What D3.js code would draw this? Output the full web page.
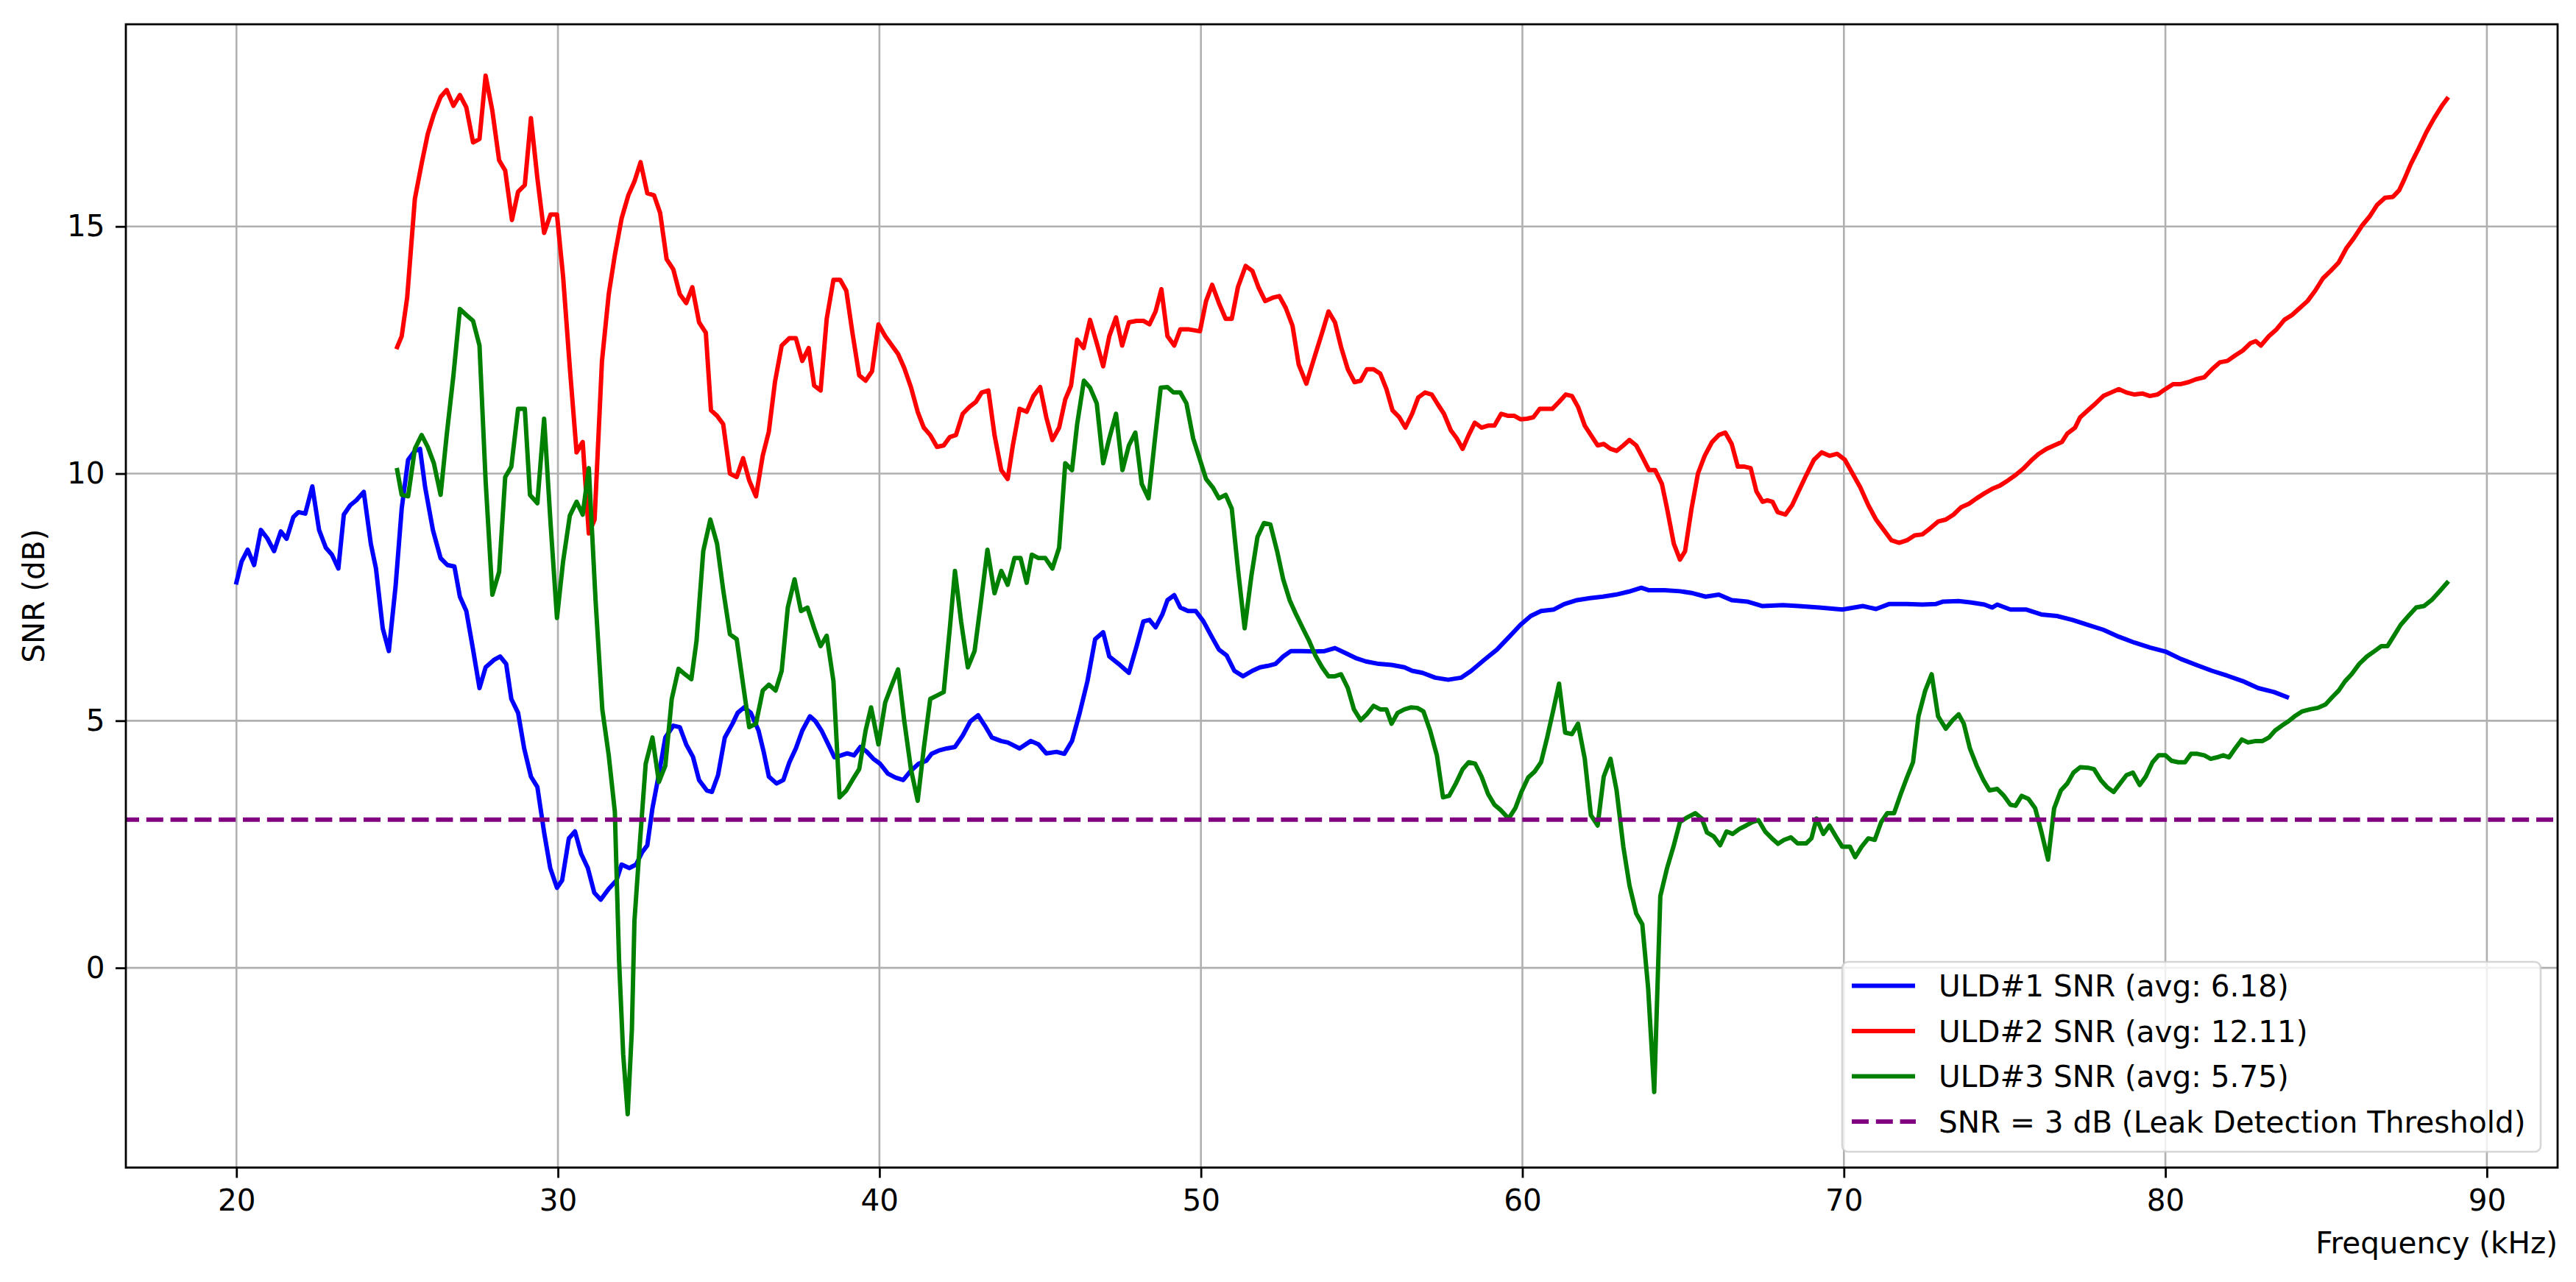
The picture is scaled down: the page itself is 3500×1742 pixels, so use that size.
<!DOCTYPE html>
<html>
<head>
<meta charset="utf-8">
<script src="https://cdn.jsdelivr.net/npm/d3@7"></script>
<style>
  body { margin: 0; background: #ffffff; }
  text { font-family: "DejaVu Sans", sans-serif; fill: #000000; }
</style>
</head>
<body>
<div class="chart-box"></div>
<script>
// Series data: [frequency kHz, SNR dB]
var uld1 = [[20.0,7.8],[20.16,8.22],[20.35,8.46],[20.55,8.15],[20.76,8.86],[20.96,8.69],[21.17,8.43],[21.38,8.83],[21.56,8.68],[21.77,9.12],[21.93,9.22],[22.14,9.19],[22.36,9.74],[22.57,8.86],[22.78,8.5],[22.97,8.36],[23.17,8.08],[23.34,9.17],[23.54,9.36],[23.73,9.46],[23.96,9.63],[24.18,8.58],[24.34,8.08],[24.55,6.87],[24.74,6.41],[24.95,7.72],[25.14,9.29],[25.34,10.28],[25.55,10.46],[25.71,10.5],[25.87,9.72],[26.11,8.86],[26.35,8.29],[26.56,8.15],[26.78,8.12],[26.95,7.51],[27.15,7.22],[27.36,6.44],[27.56,5.66],[27.75,6.08],[28.01,6.23],[28.2,6.3],[28.39,6.15],[28.55,5.44],[28.76,5.16],[28.95,4.44],[29.16,3.87],[29.36,3.66],[29.57,2.74],[29.76,2.02],[29.97,1.62],[30.13,1.77],[30.34,2.62],[30.53,2.76],[30.72,2.31],[30.93,2.02],[31.13,1.52],[31.33,1.38],[31.58,1.6],[31.82,1.77],[31.98,2.09],[32.22,2.02],[32.43,2.09],[32.62,2.34],[32.78,2.48],[32.94,3.23],[33.15,3.95],[33.34,4.66],[33.59,4.9],[33.79,4.87],[33.99,4.52],[34.2,4.27],[34.39,3.8],[34.63,3.59],[34.79,3.56],[34.98,3.9],[35.19,4.66],[35.43,4.94],[35.59,5.16],[35.79,5.27],[36.0,5.16],[36.24,4.8],[36.4,4.37],[36.56,3.87],[36.8,3.73],[37.01,3.8],[37.2,4.16],[37.4,4.44],[37.6,4.8],[37.84,5.09],[38.01,4.99],[38.2,4.8],[38.41,4.52],[38.6,4.26],[38.81,4.3],[39.0,4.34],[39.21,4.3],[39.41,4.47],[39.61,4.37],[39.81,4.23],[40.02,4.13],[40.26,3.93],[40.5,3.85],[40.74,3.8],[40.98,3.99],[41.22,4.13],[41.46,4.19],[41.62,4.33],[41.86,4.4],[42.1,4.44],[42.35,4.47],[42.59,4.7],[42.83,4.99],[43.07,5.11],[43.28,4.9],[43.5,4.66],[43.78,4.59],[43.99,4.56],[44.36,4.44],[44.71,4.59],[44.95,4.52],[45.19,4.34],[45.51,4.37],[45.75,4.33],[45.99,4.59],[46.23,5.16],[46.47,5.8],[46.71,6.65],[46.96,6.79],[47.15,6.3],[47.44,6.15],[47.76,5.97],[48.0,6.51],[48.21,7.01],[48.4,7.04],[48.59,6.89],[48.8,7.15],[48.96,7.44],[49.17,7.54],[49.36,7.29],[49.6,7.22],[49.84,7.22],[50.08,7.01],[50.32,6.72],[50.56,6.44],[50.8,6.32],[51.04,6.01],[51.31,5.9],[51.6,6.01],[51.84,6.08],[52.08,6.11],[52.32,6.15],[52.56,6.3],[52.8,6.41],[53.13,6.41],[53.53,6.4],[53.85,6.41],[54.17,6.47],[54.49,6.37],[54.81,6.27],[55.13,6.2],[55.53,6.15],[55.93,6.13],[56.33,6.08],[56.57,6.01],[56.89,5.97],[57.29,5.87],[57.69,5.83],[58.09,5.87],[58.41,6.01],[58.81,6.23],[59.21,6.44],[59.62,6.72],[59.94,6.94],[60.26,7.12],[60.58,7.22],[60.98,7.25],[61.3,7.36],[61.7,7.44],[62.1,7.48],[62.5,7.51],[62.9,7.55],[63.3,7.61],[63.7,7.69],[63.94,7.64],[64.42,7.64],[64.9,7.62],[65.3,7.58],[65.7,7.51],[66.11,7.55],[66.51,7.44],[66.99,7.41],[67.47,7.32],[68.1,7.34],[68.59,7.32],[69.23,7.29],[69.95,7.25],[70.59,7.32],[71.0,7.26],[71.4,7.36],[71.96,7.36],[72.44,7.35],[72.85,7.36],[73.09,7.41],[73.57,7.42],[73.97,7.39],[74.37,7.35],[74.61,7.29],[74.77,7.35],[75.18,7.25],[75.66,7.25],[76.14,7.15],[76.62,7.12],[77.11,7.04],[77.59,6.94],[78.07,6.84],[78.55,6.7],[79.04,6.58],[79.52,6.48],[80.0,6.4],[80.48,6.25],[80.96,6.13],[81.45,6.01],[81.93,5.91],[82.41,5.8],[82.89,5.66],[83.38,5.58],[83.78,5.48]];

var uld2 = [[25.0,12.56],[25.14,12.78],[25.31,13.56],[25.55,15.56],[25.76,16.27],[25.95,16.87],[26.14,17.27],[26.35,17.62],[26.54,17.76],[26.75,17.44],[26.95,17.66],[27.15,17.41],[27.36,16.7],[27.56,16.77],[27.75,18.05],[27.96,17.34],[28.17,16.34],[28.36,16.13],[28.57,15.13],[28.76,15.7],[28.97,15.84],[29.16,17.19],[29.36,15.98],[29.57,14.87],[29.77,15.24],[29.97,15.24],[30.16,13.99],[30.37,12.14],[30.58,10.43],[30.77,10.64],[30.96,8.79],[31.14,9.07],[31.37,12.28],[31.58,13.63],[31.77,14.42],[31.98,15.16],[32.19,15.63],[32.38,15.91],[32.57,16.3],[32.78,15.67],[32.99,15.63],[33.18,15.27],[33.38,14.34],[33.59,14.13],[33.79,13.63],[33.99,13.45],[34.18,13.77],[34.39,13.06],[34.6,12.85],[34.76,11.28],[34.95,11.17],[35.14,11.0],[35.35,10.0],[35.56,9.93],[35.76,10.31],[35.95,9.86],[36.16,9.54],[36.37,10.36],[36.56,10.85],[36.75,11.85],[36.96,12.59],[37.2,12.74],[37.4,12.74],[37.6,12.28],[37.8,12.54],[37.97,11.78],[38.17,11.68],[38.36,13.13],[38.57,13.92],[38.78,13.92],[38.97,13.7],[39.16,12.85],[39.37,11.99],[39.57,11.88],[39.77,12.07],[39.97,13.02],[40.18,12.78],[40.39,12.59],[40.58,12.42],[40.77,12.14],[40.98,11.75],[41.19,11.25],[41.38,10.93],[41.58,10.78],[41.79,10.54],[42.0,10.57],[42.19,10.74],[42.38,10.78],[42.59,11.21],[42.8,11.35],[43.0,11.45],[43.18,11.64],[43.39,11.68],[43.58,10.78],[43.79,10.07],[43.99,9.89],[44.15,10.57],[44.36,11.31],[44.58,11.25],[44.79,11.57],[45.0,11.75],[45.19,11.14],[45.38,10.68],[45.59,10.93],[45.78,11.5],[45.96,11.78],[46.15,12.71],[46.35,12.54],[46.55,13.11],[46.76,12.64],[46.96,12.17],[47.15,12.78],[47.36,13.16],[47.55,12.59],[47.76,13.06],[48.0,13.09],[48.21,13.09],[48.4,13.02],[48.59,13.28],[48.77,13.73],[48.96,12.78],[49.17,12.59],[49.36,12.92],[49.6,12.92],[49.97,12.88],[50.16,13.49],[50.35,13.82],[50.56,13.45],[50.77,13.13],[50.96,13.13],[51.15,13.77],[51.39,14.2],[51.6,14.1],[51.79,13.77],[52.0,13.49],[52.24,13.56],[52.44,13.59],[52.64,13.35],[52.85,12.99],[53.04,12.21],[53.28,11.82],[53.53,12.35],[53.77,12.85],[53.97,13.28],[54.17,13.06],[54.36,12.56],[54.57,12.11],[54.78,11.85],[54.97,11.88],[55.16,12.11],[55.37,12.11],[55.58,12.02],[55.77,11.71],[55.96,11.28],[56.17,11.14],[56.36,10.93],[56.57,11.21],[56.76,11.54],[56.97,11.64],[57.18,11.6],[57.37,11.4],[57.56,11.21],[57.77,10.88],[57.96,10.71],[58.14,10.5],[58.33,10.78],[58.52,11.03],[58.73,10.93],[58.93,10.97],[59.13,10.97],[59.34,11.21],[59.54,11.17],[59.74,11.17],[59.94,11.1],[60.14,11.11],[60.34,11.14],[60.54,11.31],[60.74,11.31],[60.93,11.31],[61.14,11.45],[61.35,11.6],[61.54,11.57],[61.73,11.35],[61.94,10.97],[62.13,10.78],[62.34,10.57],[62.53,10.6],[62.74,10.5],[62.93,10.46],[63.14,10.57],[63.33,10.68],[63.54,10.57],[63.75,10.31],[63.94,10.07],[64.13,10.07],[64.34,9.79],[64.5,9.29],[64.71,8.58],[64.9,8.26],[65.06,8.43],[65.26,9.29],[65.46,10.0],[65.67,10.36],[65.9,10.64],[66.11,10.78],[66.31,10.83],[66.51,10.6],[66.7,10.14],[66.91,10.14],[67.1,10.11],[67.28,9.64],[67.47,9.43],[67.62,9.46],[67.78,9.43],[67.94,9.22],[68.18,9.17],[68.39,9.36],[68.59,9.64],[68.83,9.97],[69.07,10.28],[69.31,10.43],[69.55,10.36],[69.79,10.4],[70.03,10.28],[70.27,10.0],[70.51,9.72],[70.76,9.36],[71.0,9.07],[71.24,8.86],[71.48,8.65],[71.72,8.6],[71.96,8.65],[72.2,8.75],[72.44,8.77],[72.68,8.89],[72.93,9.03],[73.17,9.07],[73.41,9.17],[73.65,9.32],[73.89,9.39],[74.13,9.5],[74.37,9.6],[74.61,9.69],[74.86,9.76],[75.1,9.86],[75.34,9.97],[75.58,10.1],[75.82,10.26],[76.06,10.4],[76.3,10.5],[76.54,10.57],[76.78,10.64],[76.95,10.81],[77.19,10.93],[77.35,11.14],[77.59,11.28],[77.83,11.42],[78.07,11.57],[78.31,11.64],[78.55,11.71],[78.79,11.64],[79.04,11.6],[79.28,11.62],[79.52,11.57],[79.76,11.6],[80.0,11.71],[80.24,11.81],[80.48,11.81],[80.72,11.85],[80.96,11.91],[81.21,11.95],[81.45,12.11],[81.69,12.25],[81.93,12.28],[82.17,12.39],[82.41,12.49],[82.65,12.64],[82.81,12.68],[82.97,12.59],[83.22,12.78],[83.46,12.92],[83.7,13.11],[83.94,13.21],[84.18,13.35],[84.42,13.49],[84.66,13.7],[84.9,13.95],[85.14,14.1],[85.39,14.27],[85.63,14.56],[85.87,14.77],[86.11,15.01],[86.35,15.2],[86.59,15.44],[86.83,15.58],[87.08,15.6],[87.27,15.73],[87.43,15.95],[87.64,16.27],[87.88,16.58],[88.12,16.91],[88.36,17.19],[88.6,17.44],[88.76,17.58]];

var uld3 = [[25.0,10.07],[25.14,9.57],[25.34,9.54],[25.55,10.5],[25.76,10.78],[25.95,10.54],[26.14,10.21],[26.35,9.57],[26.54,10.78],[26.75,11.99],[26.95,13.33],[27.15,13.21],[27.36,13.09],[27.56,12.59],[27.75,9.86],[27.96,7.55],[28.17,8.01],[28.36,9.93],[28.55,10.14],[28.76,11.31],[28.97,11.31],[29.13,9.57],[29.36,9.4],[29.57,11.11],[29.77,9.0],[29.97,7.08],[30.16,8.22],[30.37,9.15],[30.58,9.43],[30.77,9.17],[30.96,10.11],[31.17,7.44],[31.38,5.23],[31.58,4.3],[31.77,3.16],[31.9,0.17],[32.03,-1.75],[32.17,-2.96],[32.3,-1.25],[32.38,0.95],[32.54,2.45],[32.73,4.13],[32.94,4.66],[33.14,3.76],[33.34,4.09],[33.54,5.44],[33.75,6.05],[33.95,5.94],[34.15,5.84],[34.31,6.61],[34.52,8.43],[34.74,9.07],[34.95,8.58],[35.14,7.65],[35.35,6.75],[35.56,6.65],[35.76,5.73],[35.95,4.87],[36.16,4.94],[36.37,5.61],[36.56,5.73],[36.77,5.61],[36.96,6.01],[37.15,7.29],[37.36,7.86],[37.56,7.22],[37.76,7.29],[37.97,6.87],[38.17,6.51],[38.36,6.72],[38.57,5.8],[38.76,3.45],[38.97,3.59],[39.16,3.8],[39.37,4.02],[39.57,4.8],[39.74,5.27],[39.97,4.52],[40.18,5.37],[40.39,5.73],[40.58,6.04],[40.77,5.01],[40.98,4.02],[41.19,3.38],[41.38,4.44],[41.58,5.44],[41.79,5.51],[42.0,5.58],[42.19,6.87],[42.35,8.03],[42.54,7.01],[42.75,6.08],[42.96,6.41],[43.15,7.36],[43.36,8.46],[43.58,7.58],[43.79,8.03],[43.99,7.75],[44.2,8.29],[44.39,8.29],[44.58,7.79],[44.74,8.36],[44.95,8.29],[45.16,8.29],[45.38,8.08],[45.59,8.5],[45.78,10.21],[45.99,10.07],[46.15,11.0],[46.36,11.88],[46.55,11.74],[46.76,11.42],[46.96,10.21],[47.15,10.71],[47.36,11.21],[47.56,10.07],[47.76,10.57],[47.96,10.83],[48.16,9.79],[48.37,9.5],[48.56,10.64],[48.75,11.74],[48.96,11.75],[49.15,11.64],[49.36,11.64],[49.55,11.42],[49.76,10.71],[49.97,10.28],[50.16,9.89],[50.37,9.72],[50.56,9.5],[50.77,9.57],[50.96,9.29],[51.15,8.08],[51.36,6.87],[51.57,7.93],[51.76,8.72],[51.96,9.0],[52.16,8.97],[52.37,8.43],[52.56,7.86],[52.76,7.44],[52.96,7.15],[53.17,6.87],[53.37,6.61],[53.56,6.32],[53.77,6.08],[53.97,5.9],[54.17,5.9],[54.36,5.94],[54.57,5.66],[54.76,5.23],[54.97,5.01],[55.16,5.13],[55.37,5.3],[55.58,5.23],[55.77,5.23],[55.93,4.94],[56.12,5.16],[56.33,5.23],[56.54,5.27],[56.73,5.26],[56.92,5.19],[57.13,4.8],[57.34,4.3],[57.53,3.45],[57.72,3.48],[57.93,3.73],[58.14,4.02],[58.33,4.16],[58.53,4.13],[58.73,3.87],[58.93,3.52],[59.13,3.3],[59.33,3.19],[59.57,3.02],[59.78,3.23],[59.97,3.56],[60.18,3.85],[60.38,3.97],[60.58,4.16],[60.77,4.66],[60.98,5.27],[61.14,5.75],[61.33,4.76],[61.54,4.73],[61.73,4.94],[61.94,4.23],[62.13,3.09],[62.34,2.88],[62.53,3.87],[62.74,4.23],[62.93,3.59],[63.14,2.45],[63.33,1.67],[63.54,1.1],[63.73,0.88],[63.91,-0.4],[64.1,-2.51],[64.29,1.45],[64.5,2.02],[64.71,2.48],[64.9,2.95],[65.14,3.05],[65.38,3.13],[65.58,3.02],[65.74,2.74],[65.95,2.66],[66.15,2.48],[66.35,2.76],[66.54,2.71],[66.75,2.81],[66.96,2.88],[67.15,2.95],[67.34,2.99],[67.55,2.76],[67.76,2.62],[67.95,2.51],[68.14,2.59],[68.35,2.64],[68.56,2.52],[68.83,2.52],[68.99,2.62],[69.15,3.02],[69.36,2.71],[69.55,2.88],[69.75,2.66],[69.95,2.45],[70.19,2.45],[70.35,2.24],[70.55,2.45],[70.76,2.62],[70.96,2.59],[71.16,2.95],[71.35,3.13],[71.56,3.13],[71.77,3.52],[71.96,3.85],[72.15,4.16],[72.32,5.09],[72.53,5.61],[72.73,5.94],[72.93,5.09],[73.17,4.84],[73.38,5.01],[73.57,5.13],[73.73,4.94],[73.92,4.44],[74.13,4.09],[74.34,3.8],[74.53,3.59],[74.77,3.62],[74.98,3.48],[75.18,3.3],[75.34,3.28],[75.53,3.48],[75.74,3.42],[75.95,3.23],[76.14,2.76],[76.35,2.19],[76.54,3.23],[76.75,3.59],[76.95,3.73],[77.14,3.95],[77.35,4.06],[77.59,4.05],[77.78,4.02],[77.99,3.8],[78.18,3.66],[78.39,3.56],[78.59,3.73],[78.79,3.9],[78.99,3.95],[79.2,3.7],[79.39,3.87],[79.6,4.16],[79.79,4.3],[80.0,4.3],[80.19,4.19],[80.4,4.16],[80.61,4.16],[80.8,4.33],[81.0,4.33],[81.21,4.3],[81.41,4.23],[81.61,4.26],[81.8,4.3],[81.98,4.26],[82.17,4.44],[82.38,4.62],[82.57,4.56],[82.81,4.59],[83.02,4.59],[83.22,4.66],[83.41,4.8],[83.62,4.9],[83.83,4.99],[84.02,5.09],[84.26,5.19],[84.5,5.23],[84.74,5.26],[84.98,5.33],[85.18,5.47],[85.39,5.61],[85.59,5.8],[85.79,5.94],[86.03,6.15],[86.27,6.3],[86.51,6.41],[86.72,6.51],[86.91,6.51],[87.11,6.72],[87.32,6.94],[87.56,7.12],[87.8,7.29],[88.04,7.32],[88.28,7.44],[88.52,7.61],[88.76,7.79]];

var threshold = 3;
var xTicks = [20, 30, 40, 50, 60, 70, 80, 90];
var yTicks = [0, 5, 10, 15];
var seriesLabels = ["ULD#1 SNR (avg: 6.18)", "ULD#2 SNR (avg: 12.11)", "ULD#3 SNR (avg: 5.75)"];
var thresholdLabel = "SNR = 3 dB (Leak Detection Threshold)";
var seriesColors = ["#0000ff", "#ff0000", "#008000"];

// Dimensions
var width = 3500;
var height = 1742;
var margin = { top: 33, right: 25, bottom: 155.5, left: 171 };
var innerW = width - margin.left - margin.right;
var innerH = height - margin.top - margin.bottom;
var fontSize = 40.5;
var lineW = 6;

var svg = d3.select(".chart-box").append("svg")
  .attr("width", width)
  .attr("height", height)
  .style("display", "block")
  .style("background", "#ffffff");

var g = svg.append("g")
  .attr("transform", "translate(" + margin.left + "," + margin.top + ")");

// Scales (axis limits padded like matplotlib auto-limits)
var xScale = d3.scaleLinear()
  .domain([16.56, 92.2])
  .range([0, innerW]);

var yScale = d3.scaleLinear()
  .domain([-4.04, 19.09])
  .range([innerH, 0]);

// Grid lines
g.append("g").selectAll("line")
  .data(xTicks)
  .enter().append("line")
  .attr("x1", d => xScale(d)).attr("x2", d => xScale(d))
  .attr("y1", 0).attr("y2", innerH)
  .attr("stroke", "#b0b0b0")
  .attr("stroke-width", 2.6);

g.append("g").selectAll("line")
  .data(yTicks)
  .enter().append("line")
  .attr("x1", 0).attr("x2", innerW)
  .attr("y1", d => yScale(d)).attr("y2", d => yScale(d))
  .attr("stroke", "#b0b0b0")
  .attr("stroke-width", 2.6);

// Lines
var line = d3.line()
  .x(d => xScale(d[0]))
  .y(d => yScale(d[1]));

[uld1, uld2, uld3].forEach(function(series, i) {
  g.append("path")
    .datum(series)
    .attr("fill", "none")
    .attr("stroke", seriesColors[i])
    .attr("stroke-width", lineW)
    .attr("stroke-linejoin", "round")
    .attr("stroke-linecap", "square")
    .attr("d", line);
});

// Threshold line
g.append("line")
  .attr("x1", 0)
  .attr("x2", innerW)
  .attr("y1", yScale(threshold))
  .attr("y2", yScale(threshold))
  .attr("stroke", "#800080")
  .attr("stroke-width", lineW)
  .attr("stroke-dasharray", "23,9.8")
  .attr("stroke-dashoffset", 5);

// Axes
var xAxis = g.append("g")
  .attr("transform", "translate(0," + innerH + ")")
  .call(d3.axisBottom(xScale).tickValues(xTicks).tickSize(14).tickPadding(15.5).tickFormat(d3.format("d")));

var yAxis = g.append("g")
  .call(d3.axisLeft(yScale).tickValues(yTicks).tickSize(14).tickPadding(14.5).tickFormat(d3.format("d")));

[xAxis, yAxis].forEach(function(ax) {
  ax.select(".domain").remove();
  ax.attr("font-family", null).attr("font-size", null);
  ax.selectAll(".tick line").attr("stroke", "#000000").attr("stroke-width", 2.8);
  ax.selectAll(".tick text")
    .style("font-size", fontSize + "px")
    .attr("fill", "#000000");
});

// Spines
g.append("rect")
  .attr("x", 0)
  .attr("y", 0)
  .attr("width", innerW)
  .attr("height", innerH)
  .attr("fill", "none")
  .attr("stroke", "#000000")
  .attr("stroke-width", 2.8);

// Axis labels
svg.append("text")
  .attr("x", margin.left + innerW)
  .attr("y", 1703)
  .attr("text-anchor", "end")
  .style("font-size", fontSize + "px")
  .text("Frequency (kHz)");

svg.append("text")
  .attr("transform", "translate(60," + (margin.top + innerH / 2) + ") rotate(-90)")
  .attr("text-anchor", "middle")
  .style("font-size", fontSize + "px")
  .text("SNR (dB)");

// Legend
var legend = svg.append("g")
  .attr("transform", "translate(2503,1307)");

legend.append("rect")
  .attr("width", 949)
  .attr("height", 258)
  .attr("rx", 8)
  .attr("fill", "#ffffff")
  .attr("fill-opacity", 0.8)
  .attr("stroke", "#cccccc")
  .attr("stroke-opacity", 0.8)
  .attr("stroke-width", 2.6);

var legendItems = seriesLabels.map((label, i) => ({ label: label, color: seriesColors[i], dash: null }))
  .concat([{ label: thresholdLabel, color: "#800080", dash: "23,9.8" }]);

var rows = legend.selectAll(".legend-row")
  .data(legendItems)
  .enter().append("g")
  .attr("class", "legend-row")
  .attr("transform", (d, i) => "translate(0," + (32.5 + i * 61.5) + ")");

rows.append("line")
  .attr("x1", d => d.dash ? 13 : 16)
  .attr("x2", d => d.dash ? 100 : 96)
  .attr("y1", 0)
  .attr("y2", 0)
  .attr("stroke", d => d.color)
  .attr("stroke-width", lineW)
  .attr("stroke-linecap", d => d.dash ? "butt" : "square")
  .attr("stroke-dasharray", d => d.dash);

rows.append("text")
  .attr("x", 131)
  .attr("y", 0)
  .attr("dy", "0.36em")
  .style("font-size", fontSize + "px")
  .text(d => d.label);
</script>
</body>
</html>
